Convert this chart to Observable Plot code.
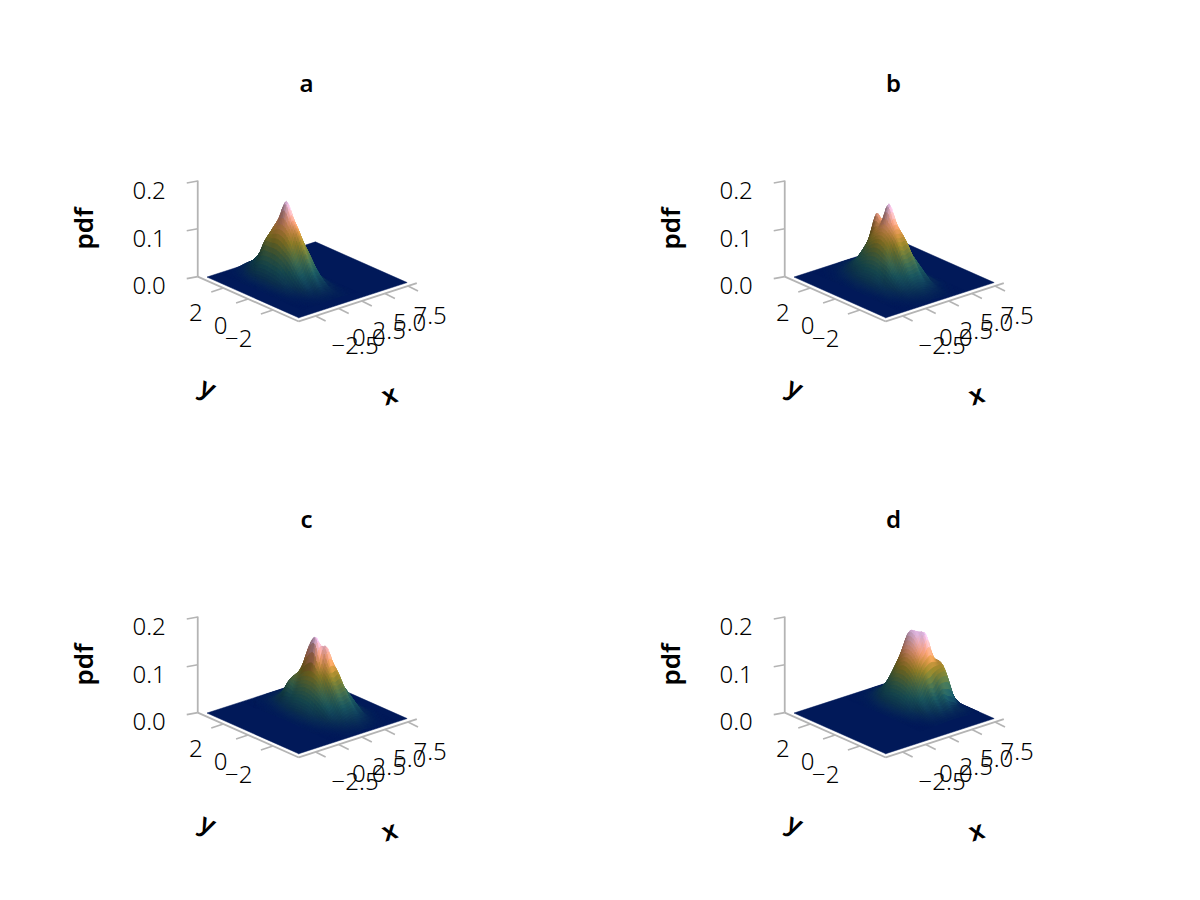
<!DOCTYPE html>
<html>
<head>
<meta charset="utf-8">
<script src="https://cdn.jsdelivr.net/npm/d3@7"></script>
<script src="https://cdn.jsdelivr.net/npm/@observablehq/plot@0.6"></script>
<style>
html,body{margin:0;padding:0;background:#fff;width:1200px;height:900px;overflow:hidden}
#grid{position:relative;width:1200px;height:900px}
#grid svg{position:absolute;overflow:visible;background:none}
</style>
</head>
<body>
<div id="grid"></div>
<script>
const xTicks = [-2.5, 0, 2.5, 5, 7.5];
const yTicks = [-2, 0, 2];
const zTicks = [0, 0.1, 0.2];
const xTickLabels = ["−2.5", "0.0", "2.5", "5.0", "7.5"];
const yTickLabels = ["−2", "0", "2"];
const zTickLabels = ["0.0", "0.1", "0.2"];
const surfaceX = [-3.8, 7.93];
const surfaceY = [-3.7, 3.7];
const axisX = [-4.32, 8.45];
const axisY = [-4.09, 4.06];
const axisZ = [0, 0.2];
const batlow = ["#011959","#103f60","#1c5a62","#3c6d56","#687b3e","#9d892b","#d29343","#f8a17b","#fdb7bc","#faccfa"];

const aX = [-2.5,-2,-1.5,-1,-0.5,0,0.5,1,1.5,2,2.5,3,3.5];
const aY = [-3,-2.5,-2,-1.5,-1,-0.5,0,0.5,1,1.5,2,2.5,3,3.5];
const aZ = [
 [0,0,0,1,1,2,3,2,3,2,1,0,0],
 [0,0,1,2,4,7,8,8,6,4,2,1,0],
 [0,1,2,5,12,14,22,16,14,6,4,1,0],
 [0,2,5,10,26,30,44,32,28,11,7,2,0],
 [1,3,10,19,44,54,74,58,46,20,12,3,1],
 [1,4,14,30,64,83,108,86,68,31,17,4,1],
 [1,5,16,41,76,111,133,116,80,43,18,6,1],
 [2,6,18,44,84,122,168,124,86,46,20,6,2],
 [1,5,18,46,82,112,130,112,76,40,17,5,1],
 [1,5,17,42,78,92,100,86,60,31,13,4,1],
 [1,4,12,26,44,58,66,58,40,21,9,3,1],
 [0,2,6,13,24,33,38,33,23,12,5,2,0],
 [0,1,3,6,11,16,19,16,11,6,2,1,0],
 [0,0,1,2,4,6,7,6,4,2,1,0,0]
];
const bX = [-2,-1.5,-1,-0.5,0,0.5,1,1.5,2,2.5,3,3.5,4,4.5,5];
const bY = [-3.5,-3,-2.5,-2,-1.5,-1,-0.5,0,0.5,1,1.5,2,2.5,3,3.5];
const bZ = [
 [0,0,0,1,2,2,3,4,3,3,2,1,0,0,0],
 [0,0,1,2,4,6,9,9,8,6,5,2,1,0,0],
 [0,1,2,5,10,14,19,21,18,15,10,5,2,1,0],
 [1,2,6,9,20,27,38,38,40,25,22,9,6,2,1],
 [1,3,9,15,33,44,64,64,66,42,36,13,9,3,1],
 [1,4,12,21,49,63,94,92,92,66,48,22,12,4,1],
 [2,5,14,30,55,86,112,124,110,84,57,29,14,5,2],
 [2,6,15,32,60,94,122,162,120,90,60,33,15,6,2],
 [2,6,14,30,56,86,108,120,112,86,55,30,13,6,2],
 [1,4,12,24,46,70,92,130,90,66,44,23,11,4,1],
 [1,3,8,16,32,47,62,68,60,46,30,16,8,3,1],
 [1,2,5,10,18,28,36,40,36,28,18,10,5,2,1],
 [0,1,2,5,9,14,19,20,19,14,9,5,2,1,0],
 [0,0,1,2,4,6,8,9,8,6,4,2,1,0,0],
 [0,0,0,1,2,2,3,3,3,2,1,1,0,0,0]
];
const cX = [0,0.5,1,1.5,2,2.5,3,3.5,4,4.5,5,5.5,6,6.5,7];
const cY = [-3.5,-3,-2.5,-2,-1.5,-1,-0.5,0,0.5,1,1.5,2,2.5,3,3.5];
const cZ = [
 [0,0,0,1,2,2,3,4,3,2,1,1,0,0,0],
 [0,0,1,2,4,6,8,10,8,7,4,2,1,0,0],
 [0,1,2,5,9,14,18,21,20,14,9,5,2,1,0],
 [1,2,5,9,19,25,38,37,40,25,21,8,5,2,1],
 [1,3,8,14,33,42,64,62,64,42,34,14,8,3,1],
 [1,4,11,21,46,62,90,92,92,62,46,21,12,4,1],
 [2,5,13,29,54,83,108,140,108,82,53,28,13,5,2],
 [2,5,14,31,58,90,156,128,114,86,56,30,14,5,2],
 [2,5,13,30,54,84,136,118,106,82,52,28,12,5,2],
 [1,4,11,24,46,70,92,94,86,64,42,22,10,4,1],
 [1,3,8,20,50,62,62,64,58,44,28,15,7,3,1],
 [1,2,5,12,26,34,36,38,34,26,17,9,4,2,1],
 [0,1,3,7,12,15,18,20,18,14,9,5,2,1,0],
 [0,1,2,3,5,6,8,9,8,6,4,2,1,0,0],
 [0,0,1,1,2,3,3,3,3,2,1,1,0,0,0]
];
const dX = [1.5,2,2.5,3,3.5,4,4.5,5,5.5,6,6.5,7,7.5,7.9];
const dY = [-2.5,-2,-1.5,-1,-0.5,0,0.5,1,1.5,2,2.5,3,3.5];
const dZ = [
 [0,0,0,1,2,2,3,3,3,3,2,1,0,0],
 [0,0,1,3,6,6,11,9,11,7,8,5,3,0],
 [0,1,3,5,14,16,27,24,31,22,17,8,4,0],
 [1,2,7,11,27,35,52,50,64,68,63,28,10,0],
 [1,4,10,22,41,63,82,92,96,92,88,46,18,0],
 [2,5,14,31,56,86,112,128,148,105,78,34,14,0],
 [2,6,15,34,62,95,124,150,141,95,62,33,15,0],
 [2,5,14,32,60,86,118,144,112,86,56,30,13,0],
 [1,4,10,24,44,66,84,90,82,63,41,22,10,0],
 [1,2,6,13,24,38,48,54,49,38,24,13,6,0],
 [0,1,3,7,12,18,24,26,24,18,12,6,3,0],
 [0,1,2,3,5,7,9,10,9,7,5,3,1,0],
 [0,0,0,1,2,2,3,3,3,2,2,1,0,0]
];
const panels = [
 {title:"a", xs:aX, ys:aY, zs:aZ, left:0, top:0},
 {title:"b", xs:bX, ys:bY, zs:bZ, left:586.7, top:0},
 {title:"c", xs:cX, ys:cY, zs:cZ, left:0, top:435.5},
 {title:"d", xs:dX, ys:dY, zs:dZ, left:586.7, top:435.5}
];

const U = (X,Y) => 9.24*X - 12.4*Y;
const V = (X,Y,Z) => -3*X - 5.5*Y - 478*Z;
const originU = 287.5, originV = 285.5;
const W = 587, H = 436;
const AXIS = "#b4b4b4";
const FONT = "'Noto Sans'";
const SUB = 4;
const ramp = d3.scaleLinear().domain(batlow.map((_,i)=>i/(batlow.length-1))).range(batlow).clamp(true);

// Smooth display of the read grid (the surface is shaded, so it needs a fine mesh)
function cr(p0,p1,p2,p3,t){
  return 0.5*(2*p1+(p2-p0)*t+(2*p0-5*p1+4*p2-p3)*t*t+(3*p1-p0-3*p2+p3)*t*t*t);
}
function refine(p){
  const nx=p.xs.length, ny=p.ys.length;
  const val=(i,j)=>p.zs[Math.max(0,Math.min(ny-1,j))][Math.max(0,Math.min(nx-1,i))]/1000;
  const fx=[], fy=[];
  for(let i=0;i<nx-1;i++) for(let s=0;s<SUB;s++) fx.push([i,s/SUB]);
  fx.push([nx-2,1]);
  for(let j=0;j<ny-1;j++) for(let s=0;s<SUB;s++) fy.push([j,s/SUB]);
  fy.push([ny-2,1]);
  const coordX=fx.map(([i,t])=>p.xs[i]+(p.xs[i+1]-p.xs[i])*t);
  const coordY=fy.map(([j,t])=>p.ys[j]+(p.ys[j+1]-p.ys[j])*t);
  const Z=fy.map(([j,ty])=>fx.map(([i,tx])=>{
    const row=k=>cr(val(i-1,j+k),val(i,j+k),val(i+1,j+k),val(i+2,j+k),tx);
    return Math.max(0,cr(row(-1),row(0),row(1),row(2),ty));
  }));
  return {coordX,coordY,Z};
}
function buildCells(p, zmax){
  const {coordX,coordY,Z}=refine(p);
  const verts=[];
  const nx=coordX.length, ny=coordY.length;
  let id=0;
  for(let j=ny-2;j>=0;j--) for(let i=nx-2;i>=0;i--){
    const mean=(Z[j][i]+Z[j][i+1]+Z[j+1][i]+Z[j+1][i+1])/4;
    const dzdx=((Z[j][i+1]-Z[j][i])+(Z[j+1][i+1]-Z[j+1][i]))/(2*(coordX[i+1]-coordX[i]));
    const dzdy=((Z[j+1][i]-Z[j][i])+(Z[j+1][i+1]-Z[j][i+1]))/(2*(coordY[j+1]-coordY[j]));
    const t=dzdy-dzdx;
    const low=Math.min(1,mean/0.015);
    const shade=1+low*Math.max(-0.45,Math.min(0.12,t*2.4-0.12));
    const c=d3.rgb(ramp(mean/zmax));
    const col=d3.rgb(c.r*shade,c.g*shade,c.b*shade).formatRgb();
    [[i,j],[i+1,j],[i+1,j+1],[i,j+1],[i,j]].forEach(([a,b])=>{
      verts.push({id,col,u:U(coordX[a],coordY[b]),v:V(coordX[a],coordY[b],Z[b][a])});
    });
    id++;
  }
  return verts;
}

function panel(p){
  const zmax = d3.max(p.zs.flat())/1000*0.98;
  const verts = buildCells(p, zmax);
  const floor = [[surfaceX[0],surfaceY[0]],[surfaceX[1],surfaceY[0]],[surfaceX[1],surfaceY[1]],[surfaceX[0],surfaceY[1]],[surfaceX[0],surfaceY[0]]]
    .map(([X,Y]) => ({u:U(X,Y), v:V(X,Y,0)}));
  const Fx=axisX[0], Fy=axisY[0];
  const axisLines = [
    {a:[axisX[0],axisY[0],0], b:[axisX[1],axisY[0],0]},
    {a:[axisX[0],axisY[0],0], b:[axisX[0],axisY[1],0]},
    {a:[axisX[0],axisY[1],0], b:[axisX[0],axisY[1],axisZ[1]+0.001]}
  ].map(s=>({x1:U(s.a[0],s.a[1]),y1:V(...s.a),x2:U(s.b[0],s.b[1]),y2:V(...s.b)}));
  const tickLines = [
    ...xTicks.map(t=>({x1:U(t,Fy),y1:V(t,Fy,0),x2:U(t,Fy)+10,y2:V(t,Fy,0)+5})),
    ...yTicks.map(t=>({x1:U(Fx,t),y1:V(Fx,t,0),x2:U(Fx,t)-12,y2:V(Fx,t,0)+4})),
    ...zTicks.map(t=>({x1:U(Fx,axisY[1]),y1:V(Fx,axisY[1],t),x2:U(Fx,axisY[1])-11,y2:V(Fx,axisY[1],t)+2}))
  ];
  const xLabs = xTicks.map((t,i)=>({t:xTickLabels[i],u:U(t,Fy)+16-1.05*(t+2.5),v:V(t,Fy,0)+30}));
  const yLabs = yTicks.map((t,i)=>({t:yTickLabels[i],u:U(Fx,t)-20.5,v:V(Fx,t,0)+25.5+(2-t)*0.9}));
  const zLabs = zTicks.map((t,i)=>({t:zTickLabels[i],u:U(Fx,axisY[1])-32,v:V(Fx,axisY[1],t)+10}));
  const tickText = {x:"u",y:"v",text:"t",fill:"#000",fontSize:24,fontWeight:300,fontFamily:FONT};
  const lab = {x:"u",y:"v",text:"t",fontWeight:600,fill:"#000",fontFamily:FONT};
  const chart = Plot.plot({
    width:W, height:H, margin:0,
    x:{domain:[-originU,W-originU],range:[0,W],axis:null},
    y:{domain:[-originV,H-originV],range:[0,H],axis:null},
    style:{fontFamily:FONT,background:"none",overflow:"visible"},
    marks:[
      Plot.line(floor,{x:"u",y:"v",fill:batlow[0],stroke:batlow[0],strokeWidth:0.5}),
      Plot.link(axisLines,{x1:"x1",y1:"y1",x2:"x2",y2:"y2",stroke:AXIS,strokeWidth:1.8}),
      Plot.link(tickLines,{x1:"x1",y1:"y1",x2:"x2",y2:"y2",stroke:AXIS,strokeWidth:1.6}),
      Plot.line(verts,{x:"u",y:"v",z:"id",fill:{value:"col",scale:null},stroke:{value:"col",scale:null},strokeWidth:0.8}),
      Plot.text(xLabs,{...tickText,textAnchor:"start"}),
      Plot.text(yLabs,{...tickText,textAnchor:"end"}),
      Plot.text(zLabs,{...tickText,textAnchor:"end"}),
      Plot.text([{t:p.title,u:306-originU,v:84-originV}],{...lab,fontSize:24}),
      Plot.text([{t:"pdf",u:84-originU,v:228-originV}],{...lab,rotate:-90,fontSize:26}),
      Plot.text([{t:"y",u:207-originU,v:388-originV}],{...lab,rotate:25,fontSize:26}),
      Plot.text([{t:"x",u:389-originU,v:395-originV}],{...lab,rotate:-18,fontSize:26})
    ]
  });
  chart.style.left = p.left+"px";
  chart.style.top = p.top+"px";
  document.getElementById("grid").appendChild(chart);
}
panels.forEach(panel);
</script>
</body>
</html>
